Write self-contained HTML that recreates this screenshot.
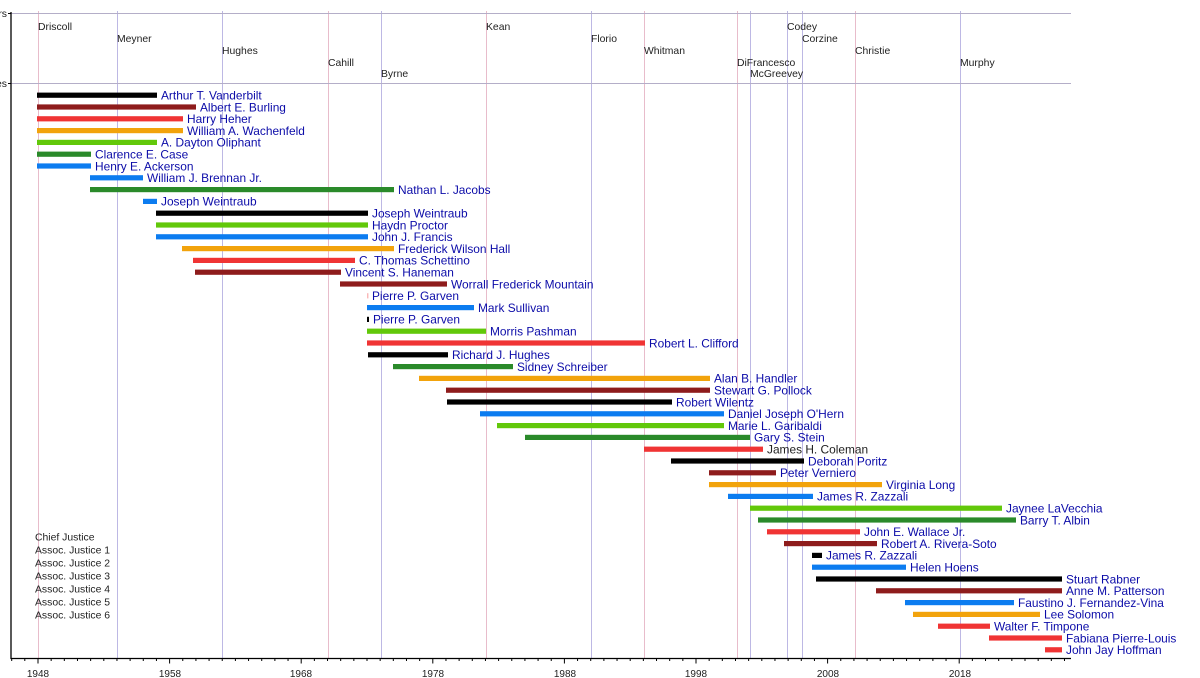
<!DOCTYPE html>
<html><head><meta charset="utf-8"><style>
html,body{margin:0;padding:0;background:#fff;}
svg{display:block;font-family:"Liberation Sans",Arial,sans-serif;}
.g{font-size:10.4px;fill:#222;}
.n{font-size:11.9px;fill:#0b0ba8;}
.l{font-size:10.4px;fill:#222;}
.a{font-size:10px;fill:#222;text-anchor:middle;}
</style></head><body>
<svg width="1200" height="678" viewBox="0 0 1200 678" xmlns="http://www.w3.org/2000/svg">
<rect width="1200" height="678" fill="#fff"/>
<g stroke-width="1">
<line x1="38.5" y1="11" x2="38.5" y2="658" stroke="#e8bccb"/>
<line x1="117.5" y1="11" x2="117.5" y2="658" stroke="#bdb8e4"/>
<line x1="222.5" y1="11" x2="222.5" y2="658" stroke="#bdb8e4"/>
<line x1="328.5" y1="11" x2="328.5" y2="658" stroke="#e8bccb"/>
<line x1="381.5" y1="11" x2="381.5" y2="658" stroke="#bdb8e4"/>
<line x1="486.5" y1="11" x2="486.5" y2="658" stroke="#e8bccb"/>
<line x1="591.5" y1="11" x2="591.5" y2="658" stroke="#bdb8e4"/>
<line x1="644.5" y1="11" x2="644.5" y2="658" stroke="#e8bccb"/>
<line x1="737.5" y1="11" x2="737.5" y2="658" stroke="#e8bccb"/>
<line x1="750.5" y1="11" x2="750.5" y2="658" stroke="#bdb8e4"/>
<line x1="787.5" y1="11" x2="787.5" y2="658" stroke="#bdb8e4"/>
<line x1="802.5" y1="11" x2="802.5" y2="658" stroke="#bdb8e4"/>
<line x1="855.5" y1="11" x2="855.5" y2="658" stroke="#e8bccb"/>
<line x1="960.5" y1="11" x2="960.5" y2="658" stroke="#bdb8e4"/>
</g>
<line x1="11" y1="13.5" x2="1071" y2="13.5" stroke="#b4aec8"/>
<line x1="11" y1="83.5" x2="1071" y2="83.5" stroke="#b4aec8"/>
<line x1="11" y1="12" x2="11" y2="659" stroke="#000" stroke-width="1.3"/>
<line x1="8" y1="13.5" x2="11" y2="13.5" stroke="#000"/>
<line x1="8" y1="83.5" x2="11" y2="83.5" stroke="#000"/>
<text x="7" y="17" class="g" text-anchor="end">Governors</text>
<text x="7" y="87" class="g" text-anchor="end">Justices</text>
<text class="g" x="38" y="30">Driscoll</text>
<text class="g" x="117" y="42">Meyner</text>
<text class="g" x="222" y="54">Hughes</text>
<text class="g" x="328" y="66">Cahill</text>
<text class="g" x="381" y="77">Byrne</text>
<text class="g" x="486" y="30">Kean</text>
<text class="g" x="591" y="42">Florio</text>
<text class="g" x="644" y="54">Whitman</text>
<text class="g" x="737" y="66">DiFrancesco</text>
<text class="g" x="750" y="77">McGreevey</text>
<text class="g" x="787" y="30">Codey</text>
<text class="g" x="802" y="42">Corzine</text>
<text class="g" x="855" y="54">Christie</text>
<text class="g" x="960" y="66">Murphy</text>
<line x1="10.5" y1="658.5" x2="1071" y2="658.5" stroke="#000" stroke-width="1.3"/>
<path stroke="#000" stroke-width="1" fill="none" d="M11.7 658v3M24.8 658v3
M38 658v5.5M51.16 658v3M64.32 658v3M77.48 658v3M90.64 658v3M103.8 658v3M116.96 658v3M130.12 658v3M143.28 658v3M156.44 658v3
M169.6 658v5.5M182.76 658v3M195.92 658v3M209.08 658v3M222.24 658v3M235.4 658v3M248.56 658v3M261.72 658v3M274.88 658v3M288.04 658v3
M301.2 658v5.5M314.36 658v3M327.52 658v3M340.68 658v3M353.84 658v3M367 658v3M380.16 658v3M393.32 658v3M406.48 658v3M419.64 658v3
M432.8 658v5.5M445.96 658v3M459.12 658v3M472.28 658v3M485.44 658v3M498.6 658v3M511.76 658v3M524.92 658v3M538.08 658v3M551.24 658v3
M564.4 658v5.5M577.56 658v3M590.72 658v3M603.88 658v3M617.04 658v3M630.2 658v3M643.36 658v3M656.52 658v3M669.68 658v3M682.84 658v3
M696 658v5.5M709.16 658v3M722.32 658v3M735.48 658v3M748.64 658v3M761.8 658v3M774.96 658v3M788.12 658v3M801.28 658v3M814.44 658v3
M827.6 658v5.5M840.76 658v3M853.92 658v3M867.08 658v3M880.24 658v3M893.4 658v3M906.56 658v3M919.72 658v3M932.88 658v3M946.04 658v3
M959.2 658v5.5M972.36 658v3M985.52 658v3M998.68 658v3M1011.84 658v3M1025 658v3M1038.16 658v3M1051.32 658v3M1064.48 658v3"/>
<text class="a" x="38" y="677">1948</text>
<text class="a" x="170" y="677">1958</text>
<text class="a" x="301" y="677">1968</text>
<text class="a" x="433" y="677">1978</text>
<text class="a" x="565" y="677">1988</text>
<text class="a" x="696" y="677">1998</text>
<text class="a" x="828" y="677">2008</text>
<text class="a" x="960" y="677">2018</text>
<text class="l" x="35" y="540.5">Chief Justice</text>
<text class="l" x="35" y="553.5">Assoc. Justice 1</text>
<text class="l" x="35" y="566.5">Assoc. Justice 2</text>
<text class="l" x="35" y="579.5">Assoc. Justice 3</text>
<text class="l" x="35" y="592.5">Assoc. Justice 4</text>
<text class="l" x="35" y="605.5">Assoc. Justice 5</text>
<text class="l" x="35" y="618.5">Assoc. Justice 6</text>

<rect x="37" y="92.6" width="120" height="5.2" fill="#000000"/><text class="n" x="161" y="99.5">Arthur T. Vanderbilt</text>
<rect x="37" y="104.4" width="159" height="5.2" fill="#8e1c1c"/><text class="n" x="200" y="111.3">Albert E. Burling</text>
<rect x="37" y="116.2" width="146" height="5.2" fill="#f03434"/><text class="n" x="187" y="123.1">Harry Heher</text>
<rect x="37" y="128.0" width="146" height="5.2" fill="#f2a30c"/><text class="n" x="187" y="134.9">William A. Wachenfeld</text>
<rect x="37" y="139.8" width="120" height="5.2" fill="#62c80a"/><text class="n" x="161" y="146.7">A. Dayton Oliphant</text>
<rect x="37" y="151.6" width="54" height="5.2" fill="#2a8a2a"/><text class="n" x="95" y="158.5">Clarence E. Case</text>
<rect x="37" y="163.4" width="54" height="5.2" fill="#0c7cf0"/><text class="n" x="95" y="170.3">Henry E. Ackerson</text>
<rect x="90" y="175.2" width="53" height="5.2" fill="#0c7cf0"/><text class="n" x="147" y="182.1">William J. Brennan Jr.</text>
<rect x="90" y="187.0" width="304" height="5.2" fill="#2a8a2a"/><text class="n" x="398" y="193.9">Nathan L. Jacobs</text>
<rect x="143" y="198.8" width="14" height="5.2" fill="#0c7cf0"/><text class="n" x="161" y="205.7">Joseph Weintraub</text>
<rect x="156" y="210.6" width="212" height="5.2" fill="#000000"/><text class="n" x="372" y="217.5">Joseph Weintraub</text>
<rect x="156" y="222.4" width="212" height="5.2" fill="#62c80a"/><text class="n" x="372" y="229.3">Haydn Proctor</text>
<rect x="156" y="234.2" width="212" height="5.2" fill="#0c7cf0"/><text class="n" x="372" y="241.1">John J. Francis</text>
<rect x="182" y="246.0" width="212" height="5.2" fill="#f2a30c"/><text class="n" x="398" y="252.9">Frederick Wilson Hall</text>
<rect x="193" y="257.8" width="162" height="5.2" fill="#f03434"/><text class="n" x="359" y="264.7">C. Thomas Schettino</text>
<rect x="195" y="269.6" width="146" height="5.2" fill="#8e1c1c"/><text class="n" x="345" y="276.5">Vincent S. Haneman</text>
<rect x="340" y="281.4" width="107" height="5.2" fill="#8e1c1c"/><text class="n" x="451" y="288.3">Worrall Frederick Mountain</text>
<rect x="367.3" y="293.2" width="1" height="5.2" fill="#f03434" opacity="0.5"/><text class="n" x="372" y="300.1">Pierre P. Garven</text>
<rect x="367" y="305.0" width="107" height="5.2" fill="#0c7cf0"/><text class="n" x="478" y="311.9">Mark Sullivan</text>
<rect x="367" y="316.8" width="2" height="5.2" fill="#000000"/><text class="n" x="373" y="323.7">Pierre P. Garven</text>
<rect x="367" y="328.6" width="119" height="5.2" fill="#62c80a"/><text class="n" x="490" y="335.5">Morris Pashman</text>
<rect x="367" y="340.4" width="278" height="5.2" fill="#f03434"/><text class="n" x="649" y="347.3">Robert L. Clifford</text>
<rect x="368" y="352.2" width="80" height="5.2" fill="#000000"/><text class="n" x="452" y="359.1">Richard J. Hughes</text>
<rect x="393" y="364.0" width="120" height="5.2" fill="#2a8a2a"/><text class="n" x="517" y="370.9">Sidney Schreiber</text>
<rect x="419" y="375.8" width="291" height="5.2" fill="#f2a30c"/><text class="n" x="714" y="382.7">Alan B. Handler</text>
<rect x="446" y="387.6" width="264" height="5.2" fill="#8e1c1c"/><text class="n" x="714" y="394.5">Stewart G. Pollock</text>
<rect x="447" y="399.4" width="225" height="5.2" fill="#000000"/><text class="n" x="676" y="406.3">Robert Wilentz</text>
<rect x="480" y="411.2" width="244" height="5.2" fill="#0c7cf0"/><text class="n" x="728" y="418.1">Daniel Joseph O'Hern</text>
<rect x="497" y="423.0" width="227" height="5.2" fill="#62c80a"/><text class="n" x="728" y="429.9">Marie L. Garibaldi</text>
<rect x="525" y="434.8" width="225" height="5.2" fill="#2a8a2a"/><text class="n" x="754" y="441.7">Gary S. Stein</text>
<rect x="644" y="446.6" width="119" height="5.2" fill="#f03434"/><text class="n" x="767" y="453.5" style="fill:#222">James H. Coleman</text>
<rect x="671" y="458.4" width="133" height="5.2" fill="#000000"/><text class="n" x="808" y="465.3">Deborah Poritz</text>
<rect x="709" y="470.2" width="67" height="5.2" fill="#8e1c1c"/><text class="n" x="780" y="477.1">Peter Verniero</text>
<rect x="709" y="482.0" width="173" height="5.2" fill="#f2a30c"/><text class="n" x="886" y="488.9">Virginia Long</text>
<rect x="728" y="493.8" width="85" height="5.2" fill="#0c7cf0"/><text class="n" x="817" y="500.7">James R. Zazzali</text>
<rect x="750" y="505.6" width="252" height="5.2" fill="#62c80a"/><text class="n" x="1006" y="512.5">Jaynee LaVecchia</text>
<rect x="758" y="517.4" width="258" height="5.2" fill="#2a8a2a"/><text class="n" x="1020" y="524.3">Barry T. Albin</text>
<rect x="767" y="529.2" width="93" height="5.2" fill="#f03434"/><text class="n" x="864" y="536.1">John E. Wallace Jr.</text>
<rect x="784" y="541.0" width="93" height="5.2" fill="#8e1c1c"/><text class="n" x="881" y="547.9">Robert A. Rivera-Soto</text>
<rect x="812" y="552.8" width="10" height="5.2" fill="#000000"/><text class="n" x="826" y="559.7">James R. Zazzali</text>
<rect x="812" y="564.6" width="94" height="5.2" fill="#0c7cf0"/><text class="n" x="910" y="571.5">Helen Hoens</text>
<rect x="816" y="576.4" width="246" height="5.2" fill="#000000"/><text class="n" x="1066" y="583.3">Stuart Rabner</text>
<rect x="876" y="588.2" width="186" height="5.2" fill="#8e1c1c"/><text class="n" x="1066" y="595.1">Anne M. Patterson</text>
<rect x="905" y="600.0" width="109" height="5.2" fill="#0c7cf0"/><text class="n" x="1018" y="606.9">Faustino J. Fernandez-Vina</text>
<rect x="913" y="611.8" width="127" height="5.2" fill="#f2a30c"/><text class="n" x="1044" y="618.7">Lee Solomon</text>
<rect x="938" y="623.6" width="52" height="5.2" fill="#f03434"/><text class="n" x="994" y="630.5">Walter F. Timpone</text>
<rect x="989" y="635.4" width="73" height="5.2" fill="#f03434"/><text class="n" x="1066" y="642.3">Fabiana Pierre-Louis</text>
<rect x="1045" y="647.2" width="17" height="5.2" fill="#f03434"/><text class="n" x="1066" y="654.1">John Jay Hoffman</text>
</svg>
</body></html>
